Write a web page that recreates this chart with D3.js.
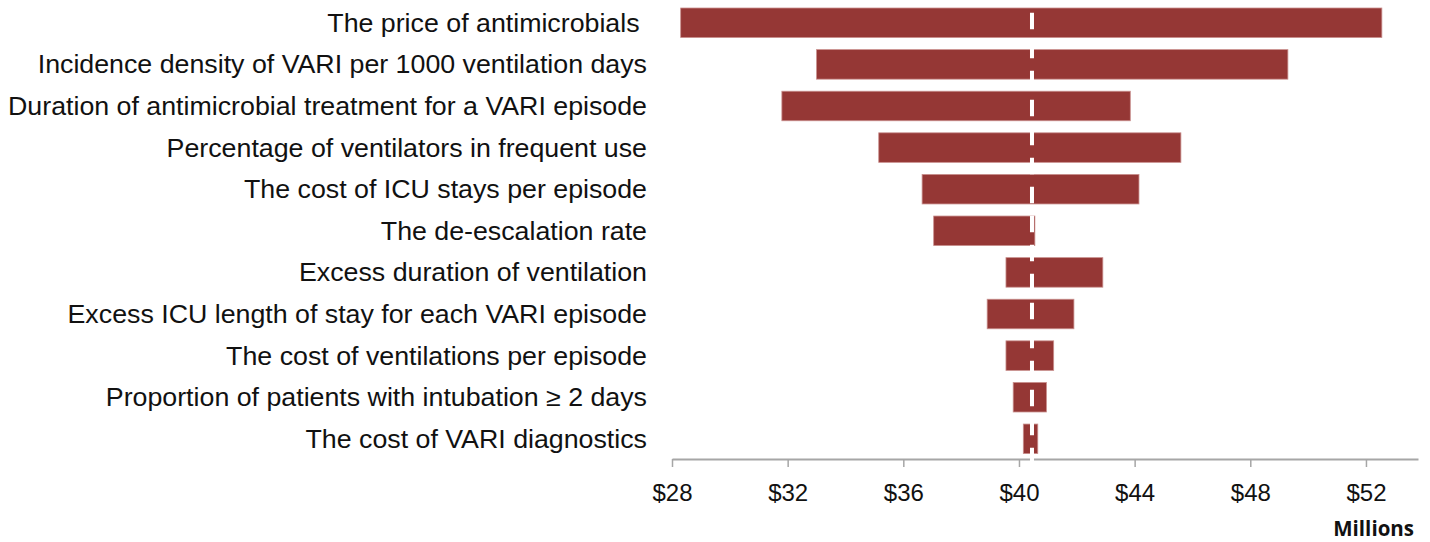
<!DOCTYPE html>
<html>
<head>
<meta charset="utf-8">
<script src="https://cdn.jsdelivr.net/npm/d3@7"></script>
<style>
  body { margin: 0; background: #fff; }
  svg { display: block; }
</style>
</head>
<body>
<div id="chart"></div>
<script>
// tornado chart - one-way sensitivity, values in $ millions
var categories = [
    "The price of antimicrobials ",
    "Incidence density of VARI per 1000 ventilation days",
    "Duration of antimicrobial treatment for a VARI episode",
    "Percentage of ventilators in frequent use",
    "The cost of ICU stays per episode",
    "The de-escalation rate",
    "Excess duration of ventilation",
    "Excess ICU length of stay for each VARI episode",
    "The cost of ventilations per episode",
    "Proportion of patients with intubation \u2265 2 days",
    "The cost of VARI diagnostics"
];
var lowValues  = [28.3, 33.0, 31.8, 35.15, 36.65, 37.05, 39.55, 38.9, 39.55, 39.8, 40.15];
var highValues = [52.55, 49.3, 43.85, 45.6, 44.15, 40.55, 42.9, 41.9, 41.2, 40.95, 40.65];
var baseValue = 40.45;
var tickValues = [28, 32, 36, 40, 44, 48, 52];
var axisTitle = "Millions";

var width = 1430, height = 542;

var svg = d3.select("#chart").append("svg")
    .attr("width", width)
    .attr("height", height);

var x = d3.scaleLinear()
    .domain([28, 53.8])
    .range([672, 1418]);

var y = d3.scaleBand()
    .domain(categories)
    .range([2.6, 459])
    .paddingInner(0.29)
    .paddingOuter(0.13);

var rows = categories.map(function (c, i) {
    return { name: c, low: lowValues[i], high: highValues[i] };
});

// bars
svg.append("g").selectAll("rect")
    .data(rows)
    .enter()
    .append("rect")
    .attr("x", function (d) { return x(d.low); })
    .attr("y", function (d) { return y(d.name); })
    .attr("width", function (d) { return x(d.high) - x(d.low); })
    .attr("height", y.bandwidth())
    .attr("fill", "#953735")
    .attr("stroke", "#c98f8d")
    .attr("stroke-width", 0.8);

// axis
var axis = svg.append("g")
    .attr("transform", "translate(0," + y.range()[1] + ")")
    .call(d3.axisBottom(x)
        .tickValues(tickValues)
        .tickSize(8)
        .tickSizeOuter(0)
        .tickPadding(17)
        .tickFormat(function (d) { return "$" + d; }));

axis.select(".domain").attr("stroke", "#a6a6a6").attr("stroke-width", 2);
axis.selectAll(".tick line").attr("stroke", "#a6a6a6").attr("stroke-width", 1.5);
axis.selectAll(".tick text")
    .attr("fill", "#111")
    .style("font-family", "'Liberation Sans', Arial, sans-serif")
    .style("font-size", "24px");

// base case dashed line
svg.append("line")
    .attr("x1", x(baseValue))
    .attr("x2", x(baseValue))
    .attr("y1", -16.3)
    .attr("y2", y.range()[1] + 6)
    .attr("stroke", "#fff")
    .attr("stroke-width", 4)
    .attr("stroke-dasharray", "16.6 12.4");

// category labels (slightly stretched like the source)
svg.append("g").selectAll("text")
    .data(rows)
    .enter()
    .append("text")
    .attr("transform", function (d) {
        return "translate(647," + (y(d.name) + y.bandwidth() / 2) + ") scale(1.05,1)";
    })
    .attr("dy", "0.35em")
    .attr("text-anchor", "end")
    .style("white-space", "pre")
    .style("font-family", "'Liberation Sans', Arial, sans-serif")
    .style("font-size", "25.5px")
    .attr("fill", "#111")
    .text(function (d) { return d.name; });

svg.append("text")
    .attr("x", 1414)
    .attr("y", 536)
    .attr("text-anchor", "end")
    .style("font-family", "'Open Sans', sans-serif")
    .style("font-weight", "bold")
    .style("font-size", "20.5px")
    .attr("fill", "#111")
    .text(axisTitle);
</script>
</body>
</html>
